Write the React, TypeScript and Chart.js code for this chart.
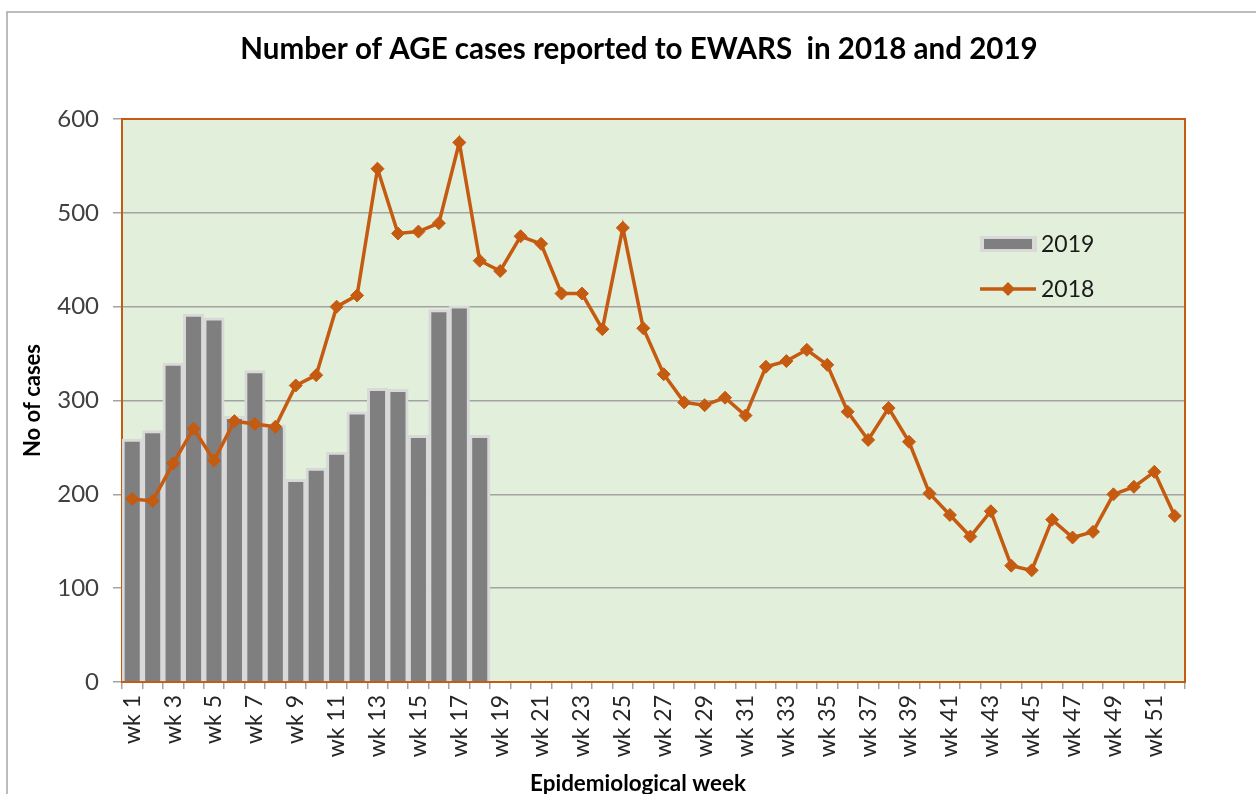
import { useEffect, useRef } from 'react';
import { Chart, registerables } from 'chart.js';

Chart.register(...registerables);

const weekLabels = [
  'wk 1', 'wk 2', 'wk 3', 'wk 4', 'wk 5', 'wk 6', 'wk 7', 'wk 8', 'wk 9', 'wk 10',
  'wk 11', 'wk 12', 'wk 13', 'wk 14', 'wk 15', 'wk 16', 'wk 17', 'wk 18', 'wk 19', 'wk 20',
  'wk 21', 'wk 22', 'wk 23', 'wk 24', 'wk 25', 'wk 26', 'wk 27', 'wk 28', 'wk 29', 'wk 30',
  'wk 31', 'wk 32', 'wk 33', 'wk 34', 'wk 35', 'wk 36', 'wk 37', 'wk 38', 'wk 39', 'wk 40',
  'wk 41', 'wk 42', 'wk 43', 'wk 44', 'wk 45', 'wk 46', 'wk 47', 'wk 48', 'wk 49', 'wk 50',
  'wk 51', 'wk 52',
];

const cases2019 = [259, 268, 340, 392, 388, 283, 332, 274, 216, 228, 245, 288, 313, 312, 263, 397, 401, 263];

const cases2018 = [
  195, 193, 233, 270, 236, 278, 275, 272, 316, 327,
  400, 412, 547, 478, 480, 489, 575, 449, 438, 475,
  467, 414, 414, 376, 484, 377, 328, 298, 295, 303,
  284, 336, 342, 354, 338, 288, 258, 292, 256, 201,
  178, 155, 182, 124, 119, 173, 154, 160, 200, 208,
  224, 177,
];

const yMin = 0;
const yMax = 600;
const yStep = 100;

const titleText = 'Number of AGE cases reported to EWARS  in 2018 and 2019';
const xTitleText = 'Epidemiological week';
const yTitleText = 'No of cases';
const seriesNames = ['2019', '2018'];

const FONT = 'Lato, "Open Sans", "DejaVu Sans", sans-serif';
const ORANGE = '#c55a11';
const BAR_FILL = '#7f7f7f';
const BAR_EDGE = '#d9d9d9';
const PLOT_BG = '#e2efda';
const GRID = '#a3a3a3';

function fitFontSize(ctx: CanvasRenderingContext2D, text: string, weight: string, target: number) {
  ctx.font = `${weight} 20px ${FONT}`;
  const w = ctx.measureText(text).width;
  return (20 * target) / w;
}

const decor = {
  id: 'decor',
  beforeDraw(chart: any) {
    const { ctx, chartArea: a, width, height } = chart;
    ctx.save();
    ctx.fillStyle = '#ffffff';
    ctx.fillRect(0, 0, width, height);
    ctx.strokeStyle = '#a6a6a6';
    ctx.lineWidth = 1.5;
    ctx.beginPath();
    ctx.moveTo(7, height);
    ctx.lineTo(7, 12);
    ctx.lineTo(width, 12);
    ctx.stroke();
    ctx.fillStyle = PLOT_BG;
    ctx.fillRect(a.left, a.top, a.right - a.left, a.bottom - a.top);
    ctx.restore();
  },
  beforeDatasetsDraw(chart: any) {
    const { ctx, chartArea: a } = chart;
    ctx.save();
    ctx.strokeStyle = ORANGE;
    ctx.lineWidth = 2;
    ctx.strokeRect(a.left, a.top, a.right - a.left, a.bottom - a.top);
    ctx.restore();
  },
  afterDraw(chart: any) {
    const { ctx } = chart;
    ctx.save();
    // Title
    const ts = fitFontSize(ctx, titleText, 'bold', 798);
    ctx.font = `bold ${ts}px ${FONT}`;
    ctx.fillStyle = '#000000';
    ctx.textAlign = 'center';
    ctx.textBaseline = 'middle';
    ctx.fillText(titleText, 639, 49);
    // X title
    const xs = fitFontSize(ctx, xTitleText, 'bold', 216);
    ctx.font = `bold ${xs}px ${FONT}`;
    ctx.fillText(xTitleText, 638, 784);
    // Legend
    ctx.fillStyle = BAR_EDGE;
    ctx.fillRect(980, 236, 57, 16);
    ctx.fillStyle = BAR_FILL;
    ctx.fillRect(984, 239, 48, 10);
    ctx.strokeStyle = ORANGE;
    ctx.lineWidth = 3.5;
    ctx.beginPath();
    ctx.moveTo(980, 289);
    ctx.lineTo(1036, 289);
    ctx.stroke();
    ctx.fillStyle = ORANGE;
    ctx.beginPath();
    ctx.moveTo(1008, 282);
    ctx.lineTo(1015, 289);
    ctx.lineTo(1008, 296);
    ctx.lineTo(1001, 289);
    ctx.closePath();
    ctx.fill();
    ctx.font = `23px ${FONT}`;
    ctx.fillStyle = '#1a1a1a';
    ctx.textAlign = 'left';
    ctx.fillText(seriesNames[0], 1041, 245);
    ctx.fillText(seriesNames[1], 1041, 290);
    ctx.restore();
  },
};

export default function App() {
  const canvasRef = useRef<HTMLCanvasElement | null>(null);

  useEffect(() => {
    const canvas = canvasRef.current;
    if (!canvas) return;
    const chart = new Chart(canvas, {
      type: 'bar',
      data: {
        labels: weekLabels,
        datasets: [
          {
            type: 'line',
            label: seriesNames[1],
            data: cases2018,
            borderColor: ORANGE,
            backgroundColor: ORANGE,
            borderWidth: 3.5,
            pointStyle: 'rectRot',
            pointRadius: 6.5,
            pointBackgroundColor: ORANGE,
            pointBorderColor: ORANGE,
            pointBorderWidth: 1,
            tension: 0,
            order: 0,
          } as any,
          {
            type: 'bar',
            label: seriesNames[0],
            data: cases2019,
            backgroundColor: BAR_FILL,
            borderColor: BAR_EDGE,
            borderWidth: 3,
            barPercentage: 1,
            categoryPercentage: 1,
            order: 1,
          } as any,
        ],
      },
      options: {
        responsive: false,
        animation: false,
        devicePixelRatio: 1,
        layout: { padding: { top: 119, right: 71, left: 0, bottom: 0 } },
        plugins: {
          legend: { display: false },
          title: { display: false },
          tooltip: { enabled: false },
        },
        scales: {
          x: {
            offset: true,
            grid: {
              offset: true,
              drawOnChartArea: false,
              drawTicks: true,
              tickLength: 7,
              color: GRID,
              lineWidth: 1.5,
            },
            border: { display: false },
            ticks: {
              autoSkip: false,
              maxRotation: 90,
              minRotation: 90,
              padding: 6,
              color: '#262626',
              font: { family: FONT, size: 23 },
              callback: (_v: any, i: number) => (i % 2 === 0 ? weekLabels[i] : ''),
            },
            afterFit: (s: any) => {
              s.height = 112;
            },
          },
          y: {
            min: yMin,
            max: yMax,
            ticks: {
              stepSize: yStep,
              padding: 14,
              color: '#404040',
              font: { family: FONT, size: 24 },
            },
            grid: {
              color: GRID,
              lineWidth: 1.5,
              tickLength: 9,
              drawTicks: true,
            },
            border: { display: false },
            title: {
              display: true,
              text: yTitleText,
              color: '#000000',
              font: { family: FONT, size: 22, weight: 'bold' },
              padding: { top: 20, bottom: 0 },
            },
            afterFit: (s: any) => {
              s.width = 122;
            },
          },
        },
      } as any,
      plugins: [decor],
    });
    return () => chart.destroy();
  }, []);

  return (
    <div style={{ position: 'fixed', left: 0, top: 0, width: 1256, height: 794, background: '#fff' }}>
      <canvas ref={canvasRef} width={1256} height={794} style={{ display: 'block' }} />
    </div>
  );
}
